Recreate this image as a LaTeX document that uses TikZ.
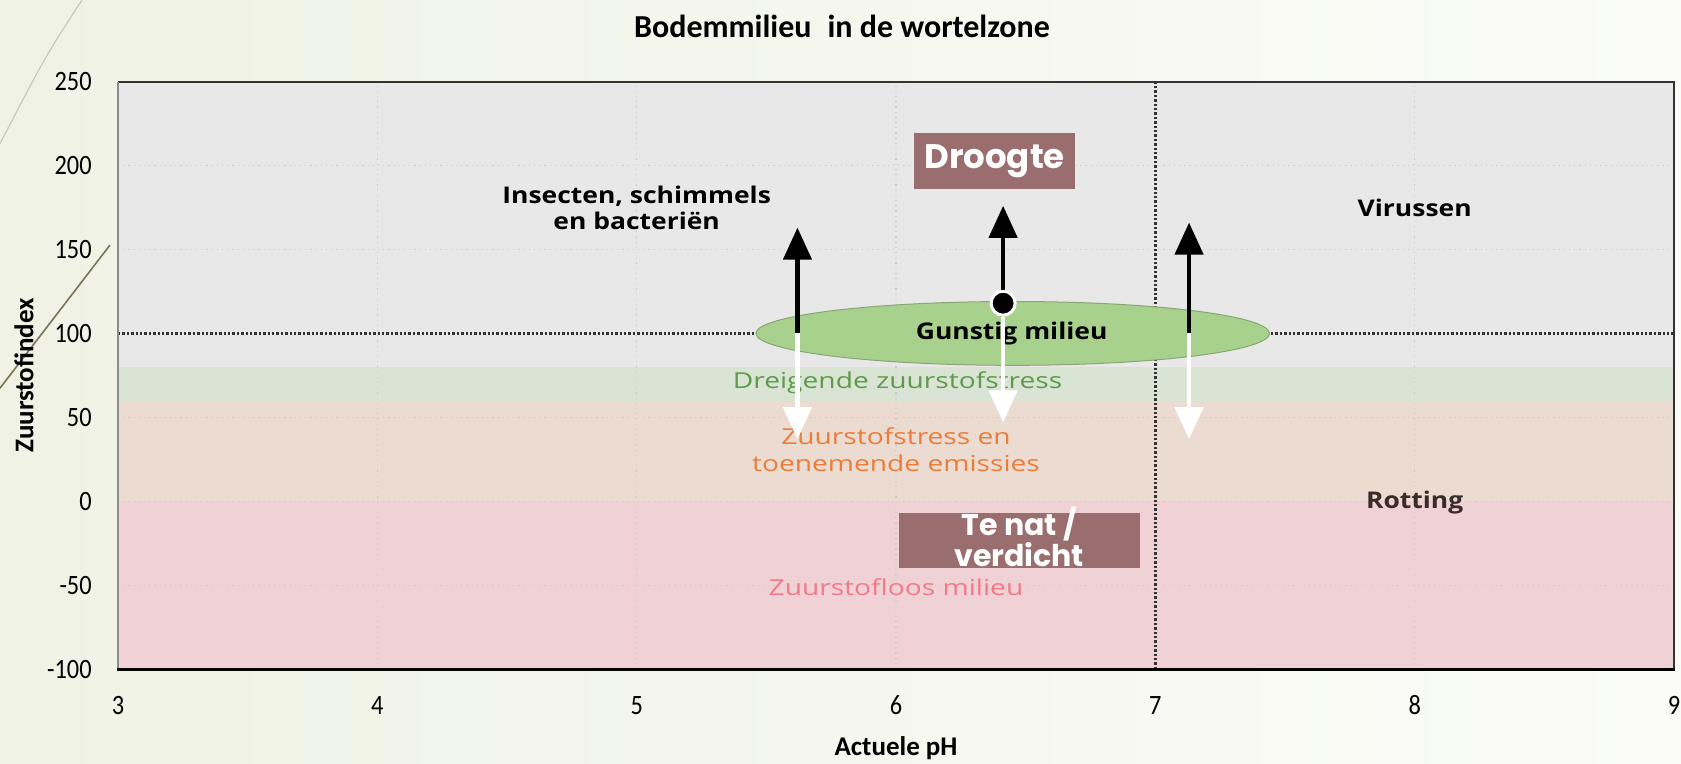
\documentclass[tikz,border=0pt]{standalone}
\usepackage{fontspec}
\setmainfont{Carlito}
\newfontfamily\chartfont[FakeStretch=0.87]{Carlito}
\newfontfamily\gothic{Poppins}
\newfontfamily\zonefont[FakeStretch=1.15]{Open Sans}
\newfontfamily\riskfont[FakeStretch=1.28]{Open Sans}
\usetikzlibrary{arrows.meta,positioning}
\definecolor{bgleft}{HTML}{EFF2E4}
\definecolor{bgright}{HTML}{FBFCF8}
\definecolor{zonegrey}{HTML}{E8E8E8}
\definecolor{zonegreen}{HTML}{D9E4D5}
\definecolor{zoneorange}{HTML}{ECDBD0}
\definecolor{zonepink}{HTML}{F0D2D6}
\definecolor{boxbrown}{HTML}{9A6E6E}
\definecolor{ovalgreen}{HTML}{A9D18E}
\definecolor{txtgreen}{HTML}{5E9B48}
\definecolor{txtorange}{HTML}{EA7D3A}
\definecolor{txtpink}{HTML}{F27A88}
\definecolor{txtbrown}{HTML}{3A2B2B}
\definecolor{gridgrey}{HTML}{CCCCCC}
\definecolor{deco}{HTML}{7A7355}
\tikzset{
  >={Triangle[width=14pt,length=16pt]},
  ticklabel/.style={font=\chartfont\fontsize{14}{15}\selectfont},
  axislabel/.style={font=\bfseries\fontsize{13.5}{15}\selectfont},
  zone/.style={font=\zonefont\bfseries\fontsize{11.5}{13}\selectfont,align=center},
  risk/.style={font=\riskfont\fontsize{11}{13.5}\selectfont,align=center},
  namebox/.style={fill=boxbrown,text=white,inner sep=0pt,align=center},
  uparrow/.style={->,line width=2.2pt,black},
  downarrow/.style={->,line width=2.2pt,white},
  limit/.style={line width=1.2pt,densely dotted,black!80},
}

\begin{document}
\begin{tikzpicture}[x=129.65pt,y=0.8395pt]
  \useasboundingbox (2.545,-156) rectangle (9.027,298.55);
  \shade[left color=bgleft,right color=bgright] (2.545,-156) rectangle (9.027,298.55);
  \draw[deco!40,line width=0.6pt] (2.861,298.55) .. controls (2.72,265) .. (2.545,213);
  \draw[deco,line width=0.8pt] (2.969,152.6) -- (2.545,67.4);

  % zones
  \fill[zonegrey] (3,80) rectangle (9,250);
  \fill[zonegreen] (3,60) rectangle (9,80);
  \fill[zoneorange] (3,0) rectangle (9,60);
  \fill[zonepink] (3,-100) rectangle (9,0);

  % grid
  \foreach \x in {4,5,6,8}
    \draw[gridgrey,dotted,line width=0.6pt] (\x,-100) -- (\x,250);
  \foreach \y in {-50,0,50,150,200}
    \draw[gridgrey,dotted,line width=0.6pt] (3,\y) -- (9,\y);
  \draw[limit] (3,100) -- (9,100);
  \draw[limit] (7,-100) -- (7,250);

  % frame
  \draw[black!80,line width=1pt] (3,250) -- (9,250) -- (9,-100);
  \draw[black!45,line width=1pt] (3,250) -- (3,-100);
  \draw[black,line width=1.6pt] (2.995,-100) -- (9.005,-100);

  % axes
  \foreach \y in {-100,-50,0,50,100,150,200,250}
    \node[ticklabel,anchor=east,inner sep=0pt] (y\y) at (2.90,\y) {\y};
  \foreach \x in {3,...,9}
    \node[ticklabel] (x\x) at (\x,-121.5) {\x};
  \node[axislabel] (xlabel) at (6,-147) {Actuele pH};
  \node[axislabel,rotate=90] (ylabel) at (2.637,75) {Zuurstofindex};
  \node[font=\bfseries\fontsize{16}{18}\selectfont] (title) at (5.792,283) {Bodemmilieu\enspace in de wortelzone};

  % favourable zone
  \draw[fill=ovalgreen,draw=ovalgreen!80!black,line width=0.5pt] (6.45,100) ellipse [x radius=0.99,y radius=19];
  \node[zone] (gunstig) at (6.446,100) {Gunstig milieu};

  % labels
  \node[zone] (insecten) at (5,174.5) {Insecten, schimmels\\en bacteriën};
  \node[zone] (virussen) at (8,175) {Virussen};
  \node[zone,text=txtbrown] (rotting) at (8,-1) {Rotting};
  \node[risk,text=txtgreen] (dreig) at (6.006,70.5) {Dreigende zuurstofstress};
  \node[risk,text=txtorange] (stress) at (6,30.5) {Zuurstofstress en\\toenemende emissies};
  \node[risk,text=txtpink] (zuurloos) at (6,-51) {Zuurstofloos milieu};

  \node[namebox,minimum width=80.4pt,minimum height=28pt,font=\gothic\bfseries\fontsize{17}{18}\selectfont] (droogte) at (6.38,202.5) {Droogte};
  \node[namebox,minimum width=120.6pt,minimum height=27.3pt] (natbox) at (6.475,-23.5) {};
  \node[text=white,align=center,inner sep=0pt,font=\gothic\bfseries\fontsize{15}{11.5}\selectfont] (nat) at ([yshift=2pt]natbox.center) {Te nat /\\verdicht};

  % shifts
  \coordinate (baseL) at (5.62,100);
  \coordinate (upL) at (5.62,163);
  \coordinate (downL) at (5.62,37);
  \coordinate (upM) at (6.413,176);
  \coordinate (downM) at (6.413,47);
  \coordinate (baseR) at (7.13,100);
  \coordinate (upR) at (7.13,166);
  \coordinate (downR) at (7.13,37);
  \node[circle,fill=black,draw=white,line width=1.5pt,minimum size=12pt,inner sep=0pt] (dot) at (6.413,118) {};

  \draw[uparrow] (baseL) -- (upL);
  \draw[uparrow] (dot) -- (upM);
  \draw[uparrow] (baseR) -- (upR);
  \draw[downarrow] (baseL) -- (downL);
  \draw[downarrow] (dot) -- (downM);
  \draw[downarrow] (baseR) -- (downR);
\end{tikzpicture}
\end{document}
